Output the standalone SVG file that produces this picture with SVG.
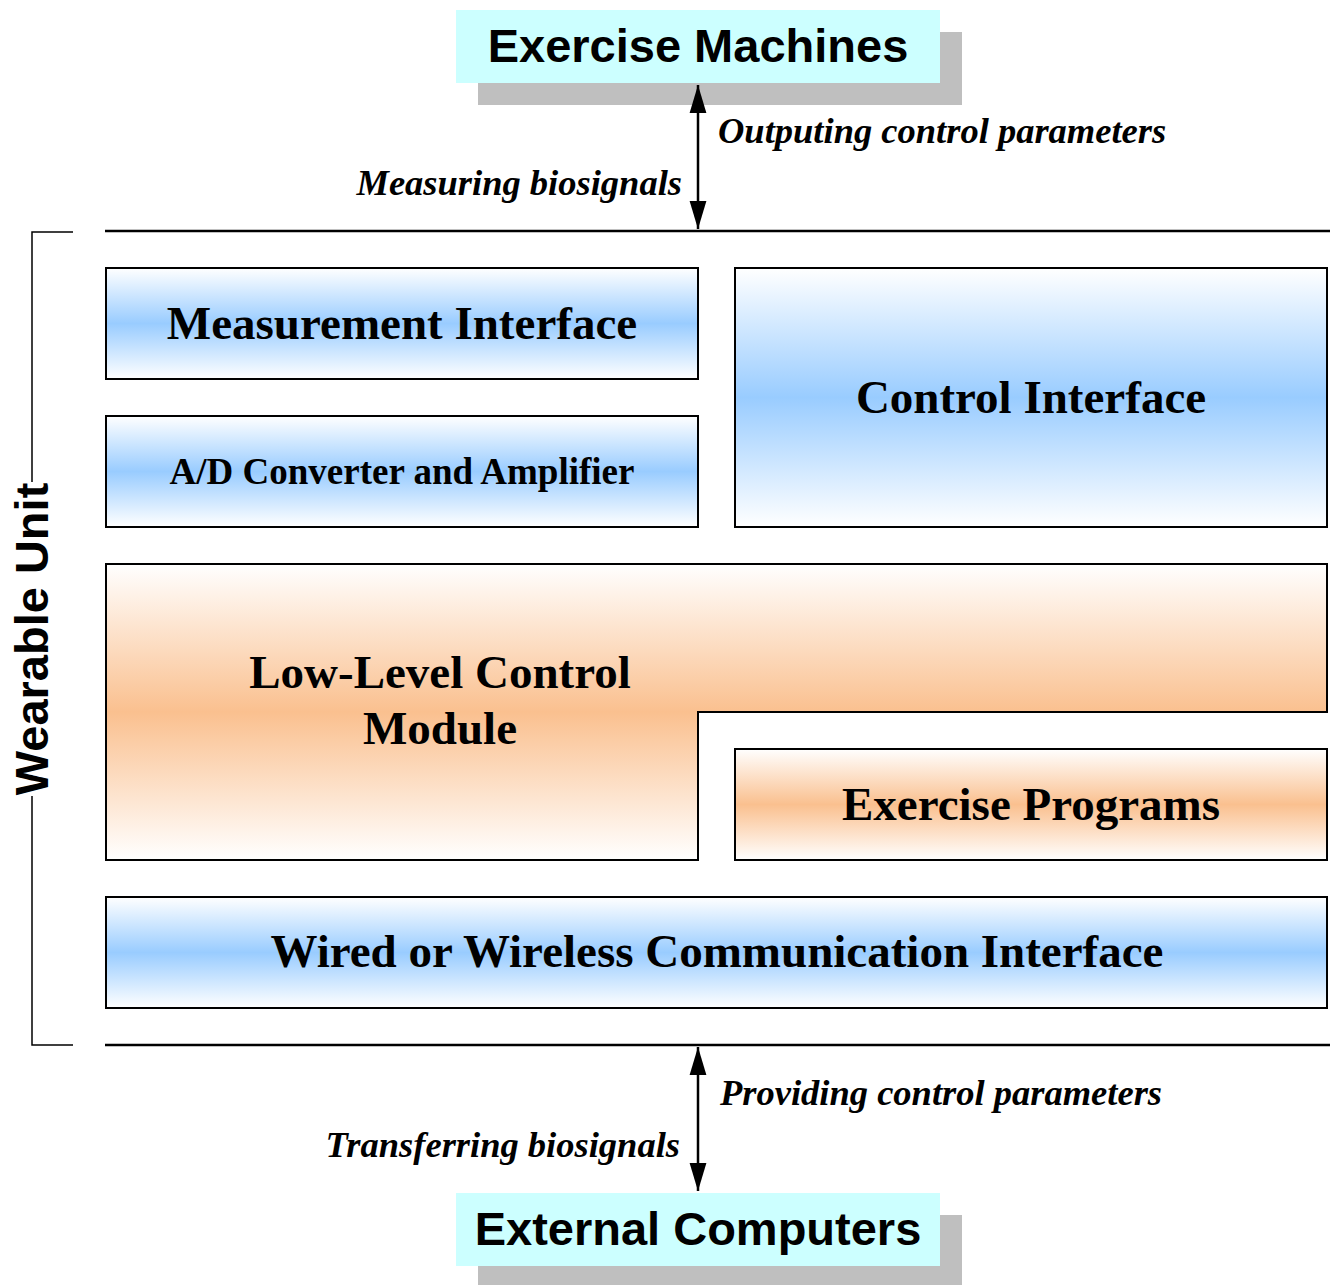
<svg xmlns="http://www.w3.org/2000/svg" width="1330" height="1285" viewBox="0 0 1330 1285">
<defs>
<linearGradient id="gBlue" x1="0" y1="0" x2="0" y2="1">
<stop offset="0" stop-color="#ffffff"/>
<stop offset="0.5" stop-color="#99ccff"/>
<stop offset="1" stop-color="#ffffff"/>
</linearGradient>
<linearGradient id="gOrange" x1="0" y1="0" x2="0" y2="1">
<stop offset="0" stop-color="#ffffff"/>
<stop offset="0.5" stop-color="#fac08f"/>
<stop offset="1" stop-color="#ffffff"/>
</linearGradient>
<marker id="ah2" viewBox="0 0 20 12" refX="20" refY="6" markerWidth="28" markerHeight="20" markerUnits="userSpaceOnUse" orient="auto-start-reverse">
<path d="M0,0 L20,6 L0,12 z" fill="#000"/>
</marker>
</defs>
<style>
.box{stroke:#000;stroke-width:2}
.blue{fill:url(#gBlue)}
.orange{fill:url(#gOrange)}
.t{font-family:"Liberation Serif","Times New Roman",serif;font-weight:bold;text-anchor:middle;fill:#000}
.s{font-family:"Liberation Sans",Arial,sans-serif;font-weight:bold;text-anchor:middle;fill:#000}
.i{font-family:"Liberation Serif","Times New Roman",serif;font-weight:bold;font-style:italic;font-size:36.5px;fill:#000}
.ext{fill:#ccffff}
.shadow{fill:#bfbfbf}
.ln{stroke:#000;stroke-width:2.5;fill:none}
.br{stroke:#000;stroke-width:1.5;fill:none}
</style>
<rect width="1330" height="1285" fill="#fff"/>

<g id="exercise-machines">
<rect class="shadow" x="478" y="32" width="484" height="73"/>
<rect class="ext" x="456" y="10" width="484" height="73"/>
<text class="s" x="698" y="62" font-size="47">Exercise Machines</text>
</g>

<g id="external-computers">
<rect class="shadow" x="478" y="1215" width="484" height="73"/>
<rect class="ext" x="456" y="1193" width="484" height="73"/>
<text class="s" x="698" y="1245" font-size="47">External Computers</text>
</g>

<g id="wearable-unit">
<path class="br" d="M73,232 H32 V482 M32,796 V1045 H73"/>
<text class="s" x="0" y="0" font-size="47" transform="translate(48,639) rotate(-90)">Wearable Unit</text>
</g>

<g id="measurement-interface">
<rect class="box blue" x="106" y="268" width="592" height="111"/>
<text class="t" x="402" y="339" font-size="47">Measurement Interface</text>
</g>

<g id="ad-converter">
<rect class="box blue" x="106" y="416" width="592" height="111"/>
<text class="t" x="402" y="484" font-size="37">A/D Converter and Amplifier</text>
</g>

<g id="control-interface">
<rect class="box blue" x="735" y="268" width="592" height="259"/>
<text class="t" x="1031" y="413" font-size="47">Control Interface</text>
</g>

<g id="low-level-control">
<path class="box orange" d="M106,564 H1327 V712 H698 V860 H106 Z"/>
<text class="t" x="440" y="688" font-size="47">Low-Level Control</text>
<text class="t" x="440" y="744" font-size="47">Module</text>
</g>

<g id="exercise-programs">
<rect class="box orange" x="735" y="749" width="592" height="111"/>
<text class="t" x="1031" y="820" font-size="47">Exercise Programs</text>
</g>

<g id="communication-interface">
<rect class="box blue" x="106" y="897" width="1221" height="111"/>
<text class="t" x="717" y="967" font-size="47">Wired or Wireless Communication Interface</text>
</g>

<g id="connectors">
<line class="ln" x1="105" y1="231" x2="1330" y2="231"/>
<line class="ln" x1="105" y1="1045" x2="1330" y2="1045"/>
<line x1="698" y1="85" x2="698" y2="229" stroke="#000" stroke-width="2.5" marker-start="url(#ah2)" marker-end="url(#ah2)"/>
<line x1="698" y1="1047" x2="698" y2="1191" stroke="#000" stroke-width="2.5" marker-start="url(#ah2)" marker-end="url(#ah2)"/>
<text class="i" x="718" y="143">Outputing control parameters</text>
<text class="i" x="682" y="195" text-anchor="end">Measuring biosignals</text>
<text class="i" x="720" y="1105">Providing control parameters</text>
<text class="i" x="680" y="1157" text-anchor="end">Transferring biosignals</text>
</g>
</svg>
